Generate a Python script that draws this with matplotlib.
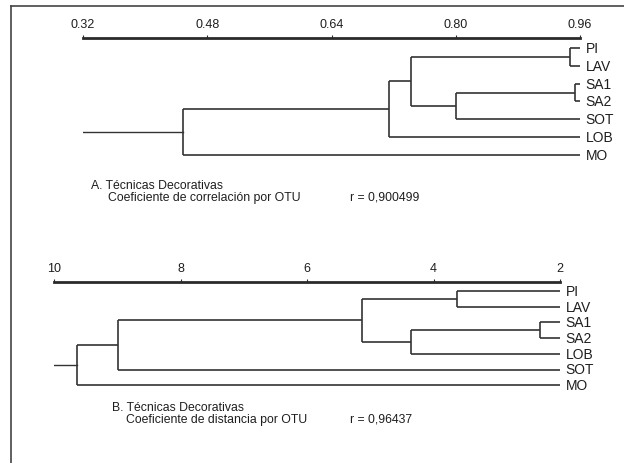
import matplotlib
matplotlib.use("Agg")
import matplotlib.pyplot as plt
from matplotlib.lines import Line2D

# ================= DATA =================
# A. correlation dendrogram (similarity, 0.32 -> 0.96)
top_leaves = ["PI", "LAV", "SA1", "SA2", "SOT", "LOB", "MO"]
# merges: (child a, child b, level) ; new nodes numbered after leaves
top_merges = [(0, 1, 0.947), (2, 3, 0.953), (8, 4, 0.800),
              (7, 9, 0.742), (10, 5, 0.714), (11, 6, 0.449)]
top_ticks = [0.32, 0.48, 0.64, 0.80, 0.96]
top_ticklabels = ["0.32", "0.48", "0.64", "0.80", "0.96"]

# B. distance dendrogram (10 -> 2)
bot_leaves = ["PI", "LAV", "SA1", "SA2", "LOB", "SOT", "MO"]
bot_merges = [(0, 1, 3.63), (2, 3, 2.32), (8, 4, 4.36),
              (7, 9, 5.13), (10, 5, 8.99), (11, 6, 9.64)]
bot_ticks = [10, 8, 6, 4, 2]
bot_ticklabels = ["10", "8", "6", "4", "2"]

FONT = ["Liberation Sans", "DejaVu Sans"]
LINE_C = "#333333"
TEXT_C = "#1e1e1e"
W, H = 624, 464

plt.rcParams["font.family"] = FONT


def px_axes(fig, x0, x1, y0, y1):
    # axes placed with pixel coords (origin top-left)
    return fig.add_axes([x0 / W, 1 - y1 / H, (x1 - x0) / W, (y1 - y0) / H])


def draw_dendro(ax, leaves, merges, leaf_x, root_x, ticks, ticklabels):
    pos = {i: (leaf_x, float(i)) for i in range(len(leaves))}
    node = len(leaves)
    for a, b, h in merges:
        xa, ya = pos[a]
        xb, yb = pos[b]
        ax.plot([xa, h], [ya, ya], color=LINE_C, lw=1.2, solid_capstyle="butt")
        ax.plot([xb, h], [yb, yb], color=LINE_C, lw=1.2, solid_capstyle="butt")
        ax.plot([h, h], [ya, yb], color=LINE_C, lw=1.2, solid_capstyle="butt")
        pos[node] = (h, (ya + yb) / 2)
        node += 1
    rx, ry = pos[node - 1]
    ax.plot([root_x, rx], [ry, ry], color=LINE_C, lw=1.0)
    for i, lab in enumerate(leaves):
        ax.annotate(lab, (leaf_x, i), xytext=(4, 0), textcoords="offset points",
                    va="center", ha="left", fontsize=10, color=TEXT_C,
                    annotation_clip=False)
    for s in ["left", "right", "bottom"]:
        ax.spines[s].set_visible(False)
    ax.spines["top"].set_linewidth(2.0)
    ax.spines["top"].set_color("#2a2a2a")
    ax.xaxis.set_ticks_position("top")
    ax.set_xticks(ticks)
    ax.set_xticklabels(ticklabels, fontsize=9, color=TEXT_C)
    ax.tick_params(axis="x", direction="out", length=2.5, width=0.8,
                   pad=3, colors="#2a2a2a", labelcolor=TEXT_C)
    ax.set_yticks([])
    ax.patch.set_alpha(0)


fig = plt.figure(figsize=(W / 100, H / 100), dpi=100)

# top panel: axis line at y=39px, leaves 49px + 17.8px per leaf
ax1 = px_axes(fig, 83, 580, 39, 160)
ax1.set_xlim(0.32, 0.96)
ax1.set_ylim((160 - 49) / 17.8, (39 - 49) / 17.8)
draw_dendro(ax1, top_leaves, top_merges, 0.96, 0.32, top_ticks, top_ticklabels)

# bottom panel: axis line at y=283px, leaves 292px + 15.7px per leaf
ax2 = px_axes(fig, 54, 560, 283, 400)
ax2.set_xlim(10, 2)
ax2.set_ylim((400 - 292) / 15.7, (283 - 292) / 15.7)
draw_dendro(ax2, bot_leaves, bot_merges, 2, 10, bot_ticks, bot_ticklabels)

# captions
CAP = 8.8
fig.text(91 / W, 1 - 186 / H, "A. Técnicas Decorativas", fontsize=CAP,
         va="center", color=TEXT_C)
fig.text(108 / W, 1 - 198 / H, "Coeficiente de correlación por OTU",
         fontsize=CAP, va="center", color=TEXT_C)
fig.text(350 / W, 1 - 198 / H, "r = 0,900499", fontsize=CAP,
         va="center", color=TEXT_C)
fig.text(112 / W, 1 - 408 / H, "B. Técnicas Decorativas", fontsize=CAP,
         va="center", color=TEXT_C)
fig.text(126 / W, 1 - 420 / H, "Coeficiente de distancia por OTU",
         fontsize=CAP, va="center", color=TEXT_C)
fig.text(350 / W, 1 - 420 / H, "r = 0,96437", fontsize=CAP,
         va="center", color=TEXT_C)

# outer frame (top and left edges only, as in the scan)
fig.add_artist(Line2D([11 / W, 1], [1 - 7 / H, 1 - 7 / H],
                      color="#444444", lw=1.2, transform=fig.transFigure))
fig.add_artist(Line2D([11 / W, 11 / W], [0, 1 - 7 / H],
                      color="#444444", lw=1.2, transform=fig.transFigure))

fig.savefig("out.png", dpi=100)
